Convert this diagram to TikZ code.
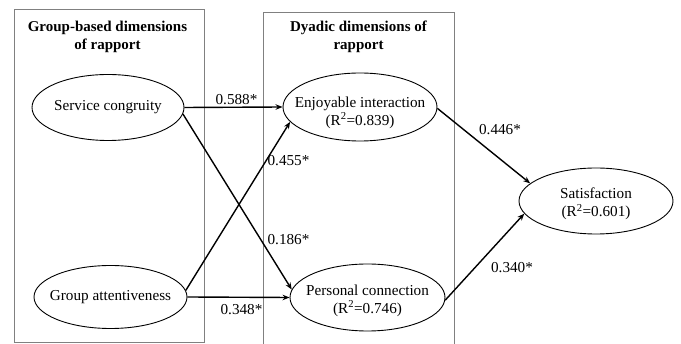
\documentclass[tikz,border=0pt]{standalone}
\usepackage{fontspec}
\setmainfont{Liberation Serif}
\usetikzlibrary{shapes.geometric,arrows.meta}
\begin{document}
\begin{tikzpicture}[x=1pt,y=-1pt,
  oval/.style={ellipse,draw=black,line width=0.9pt,inner sep=0pt},
  txt/.style={align=center,font=\fontsize{15.2}{18}\selectfont,inner sep=0pt},
  ttl/.style={align=center,font=\fontsize{15}{18}\selectfont\bfseries,inner sep=0pt},
  grp/.style={draw=black!50,line width=1pt},
  pth/.style={line width=1.4pt,-{Stealth[length=7pt,width=5.5pt]}},
  coef/.style={anchor=base,font=\fontsize{15.2}{18}\selectfont,inner sep=0pt}]
\useasboundingbox (0,0) rectangle (681,344);
% group boxes
\draw[grp] (14,10) rectangle (204,343);
\draw[grp] (263.5,350) |- (454,13) -- (454,350);
\node[ttl] (t1) at (107.5,36.5) {Group-based dimensions\\of rapport};
\node[ttl] (t2) at (358.5,36.5) {Dyadic dimensions of\\rapport};
% constructs
\node[oval,minimum width=152pt,minimum height=66pt] (sc) at (108,107.5) {};
\node[txt] (sct) at (sc) {Service congruity};
\node[oval,minimum width=153pt,minimum height=63pt] (ga) at (110.5,297) {};
\node[txt] (gat) at (ga) {Group attentiveness};
\node[oval,minimum width=154pt,minimum height=68pt] (ei) at (360,107) {};
\node[txt] (eit) at ([yshift=-5.5pt]ei.center) {Enjoyable interaction\\(R\textsuperscript{2}=0.839)};
\node[oval,minimum width=155pt,minimum height=67pt] (pc) at (367.5,297.5) {};
\node[txt] (pct) at ([yshift=-3pt]pc.center) {Personal connection\\(R\textsuperscript{2}=0.746)};
\node[oval,minimum width=154pt,minimum height=66pt] (sat) at (596,201) {};
\node[txt] (satt) at ([yshift=-2.5pt]sat.center) {Satisfaction\\(R\textsuperscript{2}=0.601)};
% paths
\draw[pth] (sc.east) -- (ei.west);
\draw[pth] (sc.-5) -- (pc.174);
\draw[pth] (ga.5) -- (ei.192);
\draw[pth] (ga.east) -- (pc.west);
\draw[pth] (ei.-1) -- (sat.165);
\draw[pth] (pc.-2) -- (sat.190);
% coefficients
\node[coef] (c1) at (236.5,105) {0.588*};
\node[coef] (c2) at (288.5,166) {0.455*};
\node[coef] (c3) at (288.5,245) {0.186*};
\node[coef] (c4) at (241.5,315) {0.348*};
\node[coef] (c5) at (500,135) {0.446*};
\node[coef] (c6) at (512,273) {0.340*};
\end{tikzpicture}
\end{document}
